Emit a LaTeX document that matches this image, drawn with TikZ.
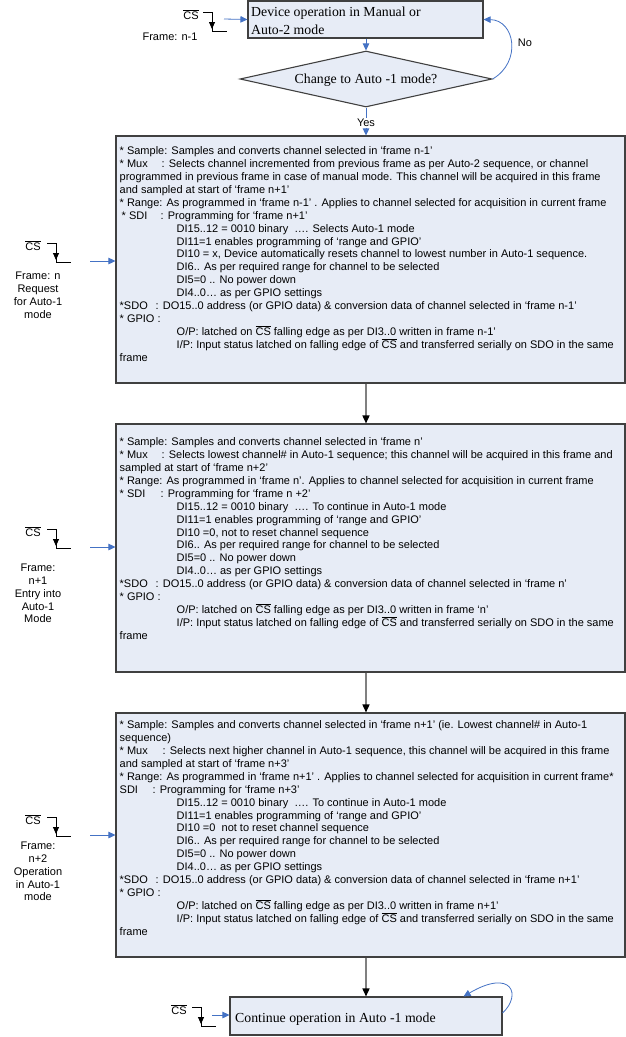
\documentclass[tikz,border=0pt]{standalone}
\usepackage{fontspec}
\setmainfont{Liberation Sans}
\newfontfamily\tnr{Liberation Serif}
\usetikzlibrary{arrows.meta,shapes.geometric}
\definecolor{boxfill}{RGB}{231,236,246}
\definecolor{boxdraw}{RGB}{64,64,64}
\definecolor{arrblue}{RGB}{68,114,196}
\definecolor{arrgray}{RGB}{128,128,128}
\newcommand{\csbar}{\smash{$\overline{\mbox{CS}}$}}
\newcommand{\ind}{\hspace*{57pt}}
\newcommand{\lab}[2]{\makebox[#1][l]{#2}}
\begin{document}
\begin{tikzpicture}[x=1pt,y=-1pt,
  box/.style={draw=boxdraw, fill=boxfill, line width=1.1pt, rectangle, inner sep=0pt},
  barrow/.style={draw=arrblue, line width=0.8pt, -{Triangle[length=7pt,width=6.5pt]}},
  garrow/.style={draw=arrgray, line width=1.5pt, -{Triangle[length=8pt,width=7pt,color=black]}},
  wave/.style={draw=black, line width=0.8pt},
  body/.style={anchor=north west, inner sep=0pt, align=left, font=\fontsize{11}{12.9}\selectfont},
  side/.style={anchor=north, inner sep=0pt, align=center, font=\fontsize{11}{12.8}\selectfont},
  sans/.style={inner sep=0pt, font=\fontsize{11}{13}\selectfont},
  tms/.style={inner sep=0pt, font=\tnr\fontsize{13.8}{18.5}\selectfont},
  csw/.pic={
    \draw[wave] (0,0) -- (9,0) -- (9,19) -- (24,19);
    \draw[wave,-{Triangle[length=7pt,width=6pt]}] (9,2) -- (9,17);
  }
]
\useasboundingbox (0,0) rectangle (626,1037);

% top box and decision
\node[box, minimum width=235pt, minimum height=37pt] (top) at (365.5,19.5) {};
\node[tms, anchor=north west, align=left] (topt) at (251,6) {\rule{0pt}{10pt}Device operation in Manual or\\Auto-2 mode};
\node[diamond, draw=boxdraw, fill=boxfill, line width=1.1pt, minimum width=252pt, minimum height=56pt,
      inner sep=0pt, shape aspect=4.5, text depth=0pt, tms] (dia) at (366,79) {Change to Auto -1 mode?};
\draw[barrow] (dia.north |- top.south) -- (dia.north);
\draw[barrow] (dia.east) .. controls (522,62) and (515,20) .. (top.east);
\node[sans] (no) at (525,43) {No};

% main boxes
\node[box, minimum width=509pt, minimum height=247pt] (box1) at (370.5,259.5) {};
\node[box, minimum width=509pt, minimum height=248pt] (box2) at (370.5,548) {};
\node[box, minimum width=509pt, minimum height=244pt] (box3) at (370.5,835) {};
\node[box, minimum width=272pt, minimum height=38pt] (bot) at (366,1016) {};
\node[tms, anchor=base west] (bott) at (235,1022.7) {Continue operation in Auto -1 mode};

\draw[barrow] (dia.south) -- (box1.north -| dia.south) node[pos=0.55, sans, fill=white, inner sep=1pt] (yes) {Yes};
\draw[garrow] (box1.south -| dia.south) -- (box2.north -| dia.south);
\draw[garrow] (box2.south -| dia.south) -- (box3.north -| dia.south);
\draw[garrow] (box3.south -| dia.south) -- (bot.north -| dia.south);
\draw[barrow] ([yshift=3pt]bot.east) .. controls (522,995) and (512,968) .. ([xshift=-39pt]bot.north east);

% box texts
\node[body] (t1) at (119.5,145.5) {\rule{0pt}{9pt}* Sample: Samples and converts channel selected in ‘frame n-1’\\
\lab{42pt}{* Mux}: Selects channel incremented from previous frame as per Auto-2 sequence, or channel\\
programmed in previous frame in case of manual mode. This channel will be acquired in this frame\\
and sampled at start of ‘frame n+1’\\
* Range: As programmed in ‘frame n-1’ . Applies to channel selected for acquisition in current frame\\
\lab{41pt}{\hspace*{2pt}* SDI}: Programming for ‘frame n+1’\\
\ind DI15..12 = 0010 binary\ \ …. Selects Auto-1 mode\\
\ind DI11=1 enables programming of ‘range and GPIO’\\
\ind DI10 = x, Device automatically resets channel to lowest number in Auto-1 sequence.\\
\ind DI6.. As per required range for channel to be selected\\
\ind DI5=0 .. No power down\\
\ind DI4..0… as per GPIO settings\\
\lab{36pt}{*SDO}: DO15..0 address (or GPIO data) \& conversion data of channel selected in ‘frame n-1’\\
* GPIO :\\
\ind O/P: latched on \csbar{} falling edge as per DI3..0 written in frame n-1’\\
\ind I/P: Input status latched on falling edge of \csbar{} and transferred serially on SDO in the same\\
frame};

\node[body] (t2) at (119.5,436.5) {\rule{0pt}{9pt}* Sample: Samples and converts channel selected in ‘frame n’\\
\lab{42pt}{* Mux}: Selects lowest channel\# in Auto-1 sequence; this channel will be acquired in this frame and\\
sampled at start of ‘frame n+2’\\
* Range: As programmed in ‘frame n’. Applies to channel selected for acquisition in current frame\\
\lab{41pt}{* SDI}: Programming for ‘frame n +2’\\
\ind DI15..12 = 0010 binary\ \ …. To continue in Auto-1 mode\\
\ind DI11=1 enables programming of ‘range and GPIO’\\
\ind DI10 =0, not to reset channel sequence\\
\ind DI6.. As per required range for channel to be selected\\
\ind DI5=0 .. No power down\\
\ind DI4..0… as per GPIO settings\\
\lab{36pt}{*SDO}: DO15..0 address (or GPIO data) \& conversion data of channel selected in ‘frame n’\\
* GPIO :\\
\ind O/P: latched on \csbar{} falling edge as per DI3..0 written in frame ‘n’\\
\ind I/P: Input status latched on falling edge of \csbar{} and transferred serially on SDO in the same\\
frame};

\node[body] (t3) at (119.5,719.5) {\rule{0pt}{9pt}* Sample: Samples and converts channel selected in ‘frame n+1’ (ie. Lowest channel\# in Auto-1\\
sequence)\\
\lab{43pt}{* Mux}: Selects next higher channel in Auto-1 sequence, this channel will be acquired in this frame\\
and sampled at start of ‘frame n+3’\\
* Range: As programmed in ‘frame n+1’ . Applies to channel selected for acquisition in current frame*\\
\lab{33pt}{SDI}: Programming for ‘frame n+3’\\
\ind DI15..12 = 0010 binary\ \ …. To continue in Auto-1 mode\\
\ind DI11=1 enables programming of ‘range and GPIO’\\
\ind DI10 =0\ \ not to reset channel sequence\\
\ind DI6.. As per required range for channel to be selected\\
\ind DI5=0 .. No power down\\
\ind DI4..0… as per GPIO settings\\
\lab{36pt}{*SDO}: DO15..0 address (or GPIO data) \& conversion data of channel selected in ‘frame n+1’\\
* GPIO :\\
\ind O/P: latched on \csbar{} falling edge as per DI3..0 written in frame n+1’\\
\ind I/P: Input status latched on falling edge of \csbar{} and transferred serially on SDO in the same\\
frame};

% chip-select markers and side labels
\node[sans] (cs0) at (191,19) {\csbar};
\node[sans] (fr0) at (170,37) {Frame: n-1};
\pic at (203,12) {csw};
\coordinate (a0) at (224,19);
\draw[barrow] (a0) -- (top.west);

\node[sans] (cs1) at (33,250) {\csbar};
\pic at (47,243) {csw};
\coordinate (a1) at (90,261);
\draw[barrow] (a1) -- (a1 -| box1.west);
\node[side] (l1) at (38,272) {Frame: n\\Request\\for Auto-1\\mode};

\node[sans] (cs2) at (33,536) {\csbar};
\pic at (47,529) {csw};
\coordinate (a2) at (90,547);
\draw[barrow] (a2) -- (a2 -| box2.west);
\node[side] (l2) at (38,564) {Frame:\\n+1\\Entry into\\Auto-1\\Mode};

\node[sans] (cs3) at (33,824) {\csbar};
\pic at (47,817) {csw};
\coordinate (a3) at (90,835);
\draw[barrow] (a3) -- (a3 -| box3.west);
\node[side] (l3) at (38,842) {Frame:\\n+2\\Operation\\in Auto-1\\mode};

\node[sans] (cs4) at (179,1014) {\csbar};
\pic at (192,1007) {csw};
\coordinate (a4) at (212,1015);
\draw[barrow] (a4) -- (a4 -| bot.west);
\end{tikzpicture}
\end{document}
